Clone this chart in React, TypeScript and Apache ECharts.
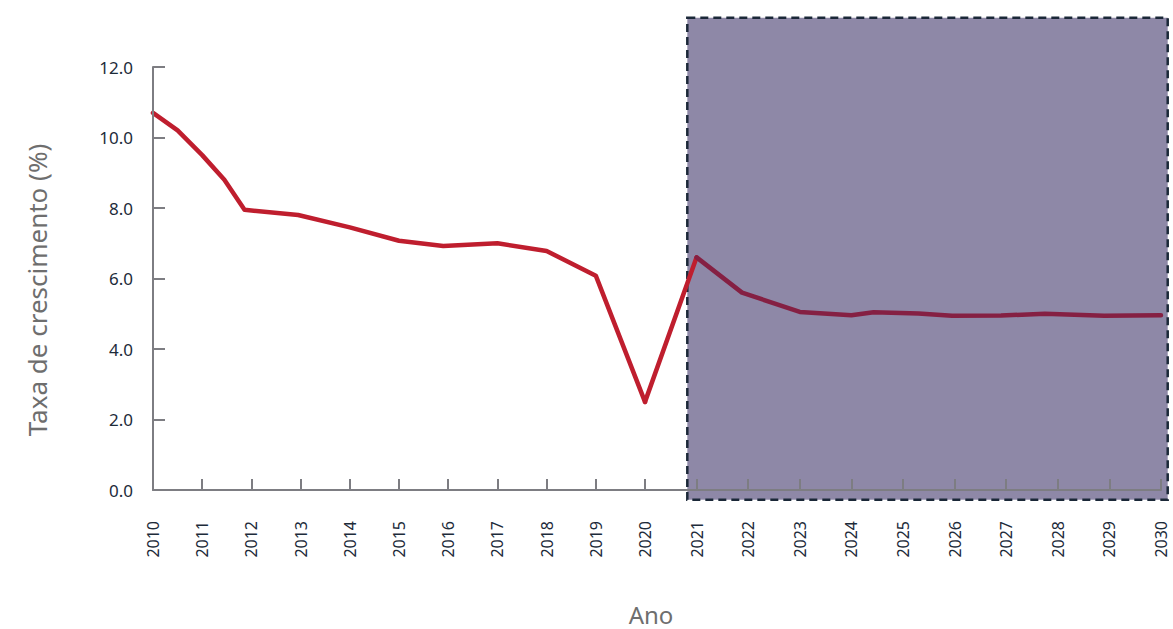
import React, { useEffect, useRef } from "react";
import * as echarts from "echarts";

const years = [2010, 2010.5, 2011, 2011.45, 2011.86, 2012.95, 2014, 2015, 2015.9, 2017, 2018, 2019, 2020, 2021, 2021.88, 2023, 2024, 2024.43, 2025.3, 2025.95, 2026.9, 2027.75, 2028.9, 2030];
const growth = [10.7, 10.2, 9.5, 8.8, 7.95, 7.8, 7.45, 7.07, 6.92, 7.0, 6.78, 6.08, 2.5, 6.6, 5.6, 5.05, 4.96, 5.04, 5.01, 4.94, 4.95, 5.0, 4.94, 4.96];
const splitYear = 2020;
const projectionStartYear = 2021;
const projectionX = [2020.82, 2030.13];
const projectionY = [-0.28, 13.4];
const yTicks = [0, 2, 4, 6, 8, 10, 12];
const yAxisTitle = "Taxa de crescimento (%)";
const xAxisTitle = "Ano";

const FONT = "'Noto Sans', 'Open Sans', sans-serif";
const AXIS_GRAY = "#7d7d82";
const LABEL_COLOR = "#1d2b3a";
const TITLE_GRAY = "#6e6e6e";

export default function App() {
  const ref = useRef<HTMLDivElement>(null);
  useEffect(() => {
    if (!ref.current) return;
    const chart = echarts.init(ref.current, null, { renderer: "svg" });
    const pts = years.map((y, i) => [y, growth[i]]);
    const firstDecade = pts.filter((d) => d[0] <= splitYear);
    const bridge = pts.filter((d) => d[0] >= splitYear && d[0] <= projectionStartYear);
    const projection = pts.filter((d) => d[0] >= projectionStartYear);

    const xAxisBase = (gridIndex: number, min: number, max: number, hideFirst: boolean) => ({
      type: "value",
      gridIndex,
      min,
      max,
      interval: 1,
      z: 5,
      axisLine: { show: true, onZero: false, lineStyle: { color: AXIS_GRAY, width: 2 } },
      axisTick: { show: true, inside: true, length: 11, lineStyle: { color: AXIS_GRAY, width: 2 } },
      splitLine: { show: false },
      axisLabel: {
        rotate: 90,
        margin: 31,
        fontSize: 16,
        color: LABEL_COLOR,
        fontFamily: FONT,
        formatter: (v: number) => (hideFirst && v === min ? "" : String(v)),
      },
    });

    const lineStyle = (color: string) => ({ width: 4.5, color, cap: "round", join: "round" });

    chart.setOption({
      animation: false,
      textStyle: { fontFamily: FONT },
      grid: [
        { left: 153, width: 492, top: 67, bottom: 139, containLabel: false },
        { left: 645, right: 12, top: 67, bottom: 139, containLabel: false },
      ],
      xAxis: [xAxisBase(0, 2010, splitYear, false), xAxisBase(1, splitYear, 2030, true)],
      yAxis: [
        {
          type: "value",
          gridIndex: 0,
          min: 0,
          max: 12,
          interval: 2,
          z: 5,
          axisLine: { show: true, lineStyle: { color: AXIS_GRAY, width: 2 } },
          axisTick: { show: true, inside: true, length: 12, lineStyle: { color: AXIS_GRAY, width: 2 } },
          splitLine: { show: false },
          axisLabel: {
            margin: 20,
            fontSize: 17,
            color: LABEL_COLOR,
            fontFamily: FONT,
            formatter: (v: number) => (yTicks.includes(v) ? v.toFixed(1) : ""),
          },
        },
        {
          type: "value",
          gridIndex: 1,
          min: 0,
          max: 12,
          interval: 2,
          show: false,
        },
      ],
      graphic: [
        {
          type: "text",
          x: 37,
          y: 290,
          rotation: Math.PI / 2,
          silent: true,
          style: {
            text: yAxisTitle,
            fontSize: 26,
            fontFamily: FONT,
            fill: TITLE_GRAY,
            textAlign: "center",
            textVerticalAlign: "middle",
          },
        },
        {
          type: "text",
          x: 651,
          y: 614,
          silent: true,
          style: {
            text: xAxisTitle,
            fontSize: 24,
            fontFamily: FONT,
            fill: TITLE_GRAY,
            textAlign: "center",
            textVerticalAlign: "middle",
          },
        },
      ],
      series: [
        {
          type: "custom",
          xAxisIndex: 1,
          yAxisIndex: 1,
          z: 1,
          silent: true,
          clip: false,
          data: [[projectionX[0], projectionX[1], projectionY[0], projectionY[1]]],
          encode: { x: [0, 1], y: [2, 3] },
          renderItem: (params: any, api: any) => {
            const p0 = api.coord([api.value(0), api.value(3)]);
            const p1 = api.coord([api.value(1), api.value(2)]);
            return {
              type: "rect",
              shape: { x: p0[0], y: p0[1], width: p1[0] - p0[0], height: p1[1] - p0[1] },
              style: {
                fill: "#8e88a7",
                stroke: "#1b2838",
                lineWidth: 2.5,
                lineDash: [8, 5],
              },
            };
          },
        },
        {
          type: "line",
          xAxisIndex: 0,
          yAxisIndex: 0,
          data: firstDecade,
          z: 3,
          showSymbol: false,
          symbol: "none",
          clip: false,
          color: "#bf1e2e",
          lineStyle: lineStyle("#bf1e2e"),
        },
        {
          type: "line",
          xAxisIndex: 1,
          yAxisIndex: 1,
          data: bridge,
          z: 3,
          showSymbol: false,
          symbol: "none",
          clip: false,
          color: "#bf1e2e",
          lineStyle: lineStyle("#bf1e2e"),
        },
        {
          type: "line",
          xAxisIndex: 1,
          yAxisIndex: 1,
          data: projection,
          z: 4,
          showSymbol: false,
          symbol: "none",
          clip: false,
          color: "#852043",
          lineStyle: lineStyle("#852043"),
        },
      ],
    });
    return () => chart.dispose();
  }, []);
  return <div ref={ref} style={{ width: 1173, height: 629, position: "absolute", left: 0, top: 0 }} />;
}
